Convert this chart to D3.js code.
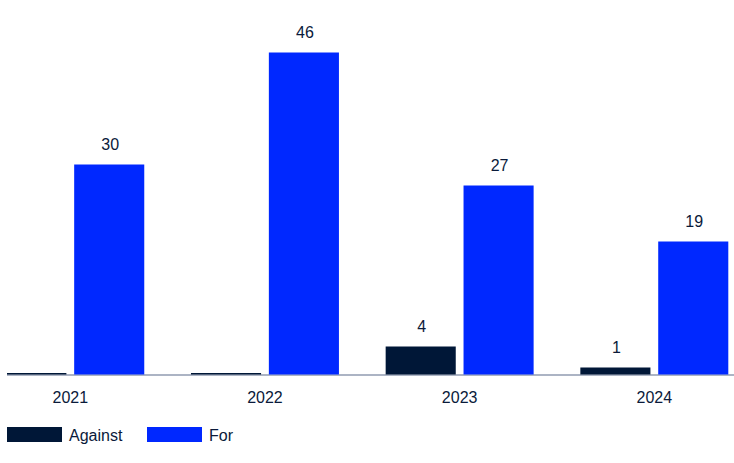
<!DOCTYPE html>
<html>
<head>
<meta charset="utf-8">
<script src="https://cdn.jsdelivr.net/npm/d3@7"></script>
<style>
  body { margin: 0; background: #fff; }
  text { font-family: "Liberation Sans", Arial, sans-serif; fill: #0a1a3a; }
</style>
</head>
<body>
<div class="chart"></div>
<script>
var years = ["2021", "2022", "2023", "2024"];
var seriesNames = ["Against", "For"];
var againstValues = [0, 0, 4, 1];
var forValues = [30, 46, 27, 19];
var colors = ["#001737", "#0028ff"];

var width = 734;
var height = 463;
var baseY = 374.5;

var data = years.map(function (y, i) {
  return { year: y, values: [againstValues[i], forValues[i]] };
});

var svg = d3
  .select(".chart")
  .append("svg")
  .attr("width", width)
  .attr("height", height);

svg
  .append("clipPath")
  .attr("id", "plot")
  .append("rect")
  .attr("x", 7)
  .attr("y", 0)
  .attr("width", width - 7)
  .attr("height", height);

var x0 = d3.scaleBand().domain(years).range([-3.7, 728.3]).paddingInner(0.24);
var x1 = d3
  .scaleBand()
  .domain(seriesNames)
  .range([0, x0.bandwidth()])
  .paddingInner(0.1);
var y = d3.scaleLinear().domain([0, 46]).range([baseY, 52.5]);

// axis line sits under the bars
svg
  .append("line")
  .attr("x1", 7)
  .attr("x2", width)
  .attr("y1", baseY + 0.5)
  .attr("y2", baseY + 0.5)
  .attr("stroke", "#5b6b8a")
  .attr("stroke-width", 1.2);

var groups = svg
  .append("g")
  .attr("clip-path", "url(#plot)")
  .selectAll("g")
  .data(data)
  .enter()
  .append("g")
  .attr("transform", function (d) {
    return "translate(" + x0(d.year) + ",0)";
  });

groups
  .selectAll("rect")
  .data(function (d) {
    return d.values.map(function (v, i) {
      return { key: seriesNames[i], value: v };
    });
  })
  .enter()
  .append("rect")
  .attr("x", function (d) {
    return x1(d.key);
  })
  .attr("width", x1.bandwidth())
  .attr("y", function (d) {
    return d.value === 0 ? baseY - 1.5 : y(d.value);
  })
  .attr("height", function (d) {
    return d.value === 0 ? 1.5 : baseY - y(d.value);
  })
  .attr("fill", function (_, i) {
    return colors[i];
  });

groups
  .selectAll(".val")
  .data(function (d) {
    return d.values
      .map(function (v, i) {
        return { key: seriesNames[i], value: v };
      })
      .filter(function (e) {
        return e.value > 0;
      });
  })
  .enter()
  .append("text")
  .attr("class", "val")
  .attr("x", function (d) {
    return x1(d.key) + x1.bandwidth() / 2 + 1;
  })
  .attr("y", function (d) {
    return y(d.value) - 15;
  })
  .attr("text-anchor", "middle")
  .style("font-size", "16px")
  .text(function (d) {
    return d.value;
  });

var axis = svg
  .append("g")
  .attr("transform", "translate(0," + baseY + ")")
  .call(d3.axisBottom(x0).tickSize(0).tickPadding(0));
axis.select(".domain").remove();
axis
  .selectAll("text")
  .attr("dy", null)
  .attr("y", 28)
  .style("font-size", "16px")
  .style("font-family", '"Liberation Sans", Arial, sans-serif')
  .attr("fill", "#0a1a3a");

var legendX = [7, 147];
var legend = svg
  .append("g")
  .selectAll("g")
  .data(seriesNames)
  .enter()
  .append("g")
  .attr("transform", function (_, i) {
    return "translate(" + legendX[i] + ",427)";
  });
legend
  .append("rect")
  .attr("width", 55)
  .attr("height", 15)
  .attr("fill", function (_, i) {
    return colors[i];
  });
legend
  .append("text")
  .attr("x", 62)
  .attr("y", 13.5)
  .style("font-size", "16px")
  .text(function (d) {
    return d;
  });
</script>
</body>
</html>
